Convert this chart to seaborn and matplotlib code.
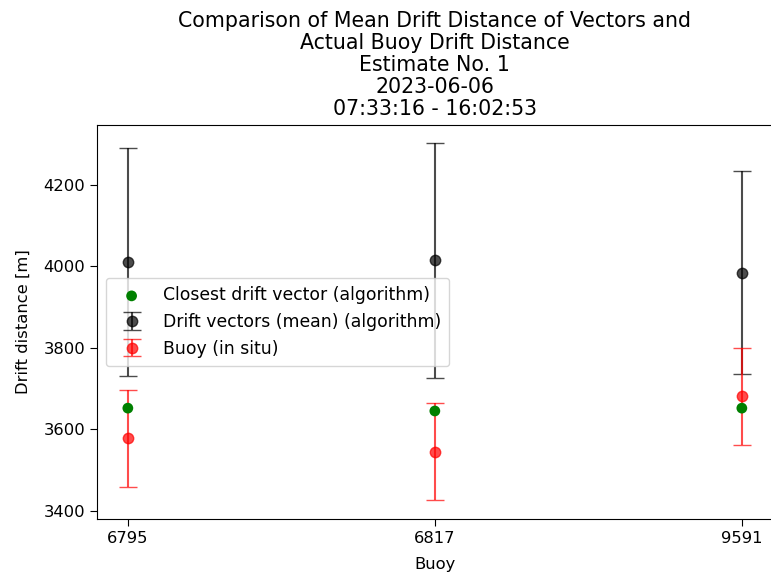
import matplotlib
matplotlib.use("Agg")
import matplotlib.pyplot as plt
import seaborn as sns
import pandas as pd

# Drift distances per buoy
buoys = ["6795", "6817", "9591"]
closest_vector = [3652, 3645, 3652]
mean_vectors = [4011, 4015, 3985]
mean_vectors_std = [279, 289, 250]
buoy_in_situ = [3578, 3545, 3681]
buoy_err = [119, 119, 119]

df = pd.DataFrame({
    "Buoy": buoys,
    "closest": closest_vector,
    "mean": mean_vectors,
    "mean_std": mean_vectors_std,
    "insitu": buoy_in_situ,
    "insitu_err": buoy_err,
})

plt.rcParams["xtick.labelsize"] = 11.8
plt.rcParams["ytick.labelsize"] = 11.8
plt.rcParams["xtick.major.size"] = 5
plt.rcParams["ytick.major.size"] = 5

fig = plt.figure(figsize=(7.71, 5.74), dpi=100)
ax = fig.add_axes([0.126, 0.096, 0.876, 0.686])

sns.scatterplot(data=df, x="Buoy", y="closest", color="green", s=60,
                edgecolor="none", label="Closest drift vector (algorithm)",
                ax=ax, zorder=3)
ax.errorbar(df["Buoy"], df["mean"], yerr=df["mean_std"], fmt="o", color="black",
            markersize=7.5, alpha=0.7, capsize=6.5, label="Drift vectors (mean) (algorithm)")
ax.errorbar(df["Buoy"], df["insitu"], yerr=df["insitu_err"], fmt="o", color="red",
            markersize=7.5, alpha=0.7, capsize=6.5, label="Buoy (in situ)")

ax.set_ylim(3380, 4347)
ax.set_yticks([3400, 3600, 3800, 4000, 4200])
ax.set_xlabel("Buoy", fontsize=11.8, labelpad=8)
ax.set_ylabel("Drift distance [m]", fontsize=11.8, labelpad=9)
ax.set_title("Comparison of Mean Drift Distance of Vectors and\n"
             "Actual Buoy Drift Distance\nEstimate No. 1\n2023-06-06\n"
             "07:33:16 - 16:02:53", fontsize=14.8, linespacing=1.13, pad=7)
ax.legend(loc="center left", fontsize=12.4, borderpad=0.5)

fig.savefig("out.png", dpi=100)
